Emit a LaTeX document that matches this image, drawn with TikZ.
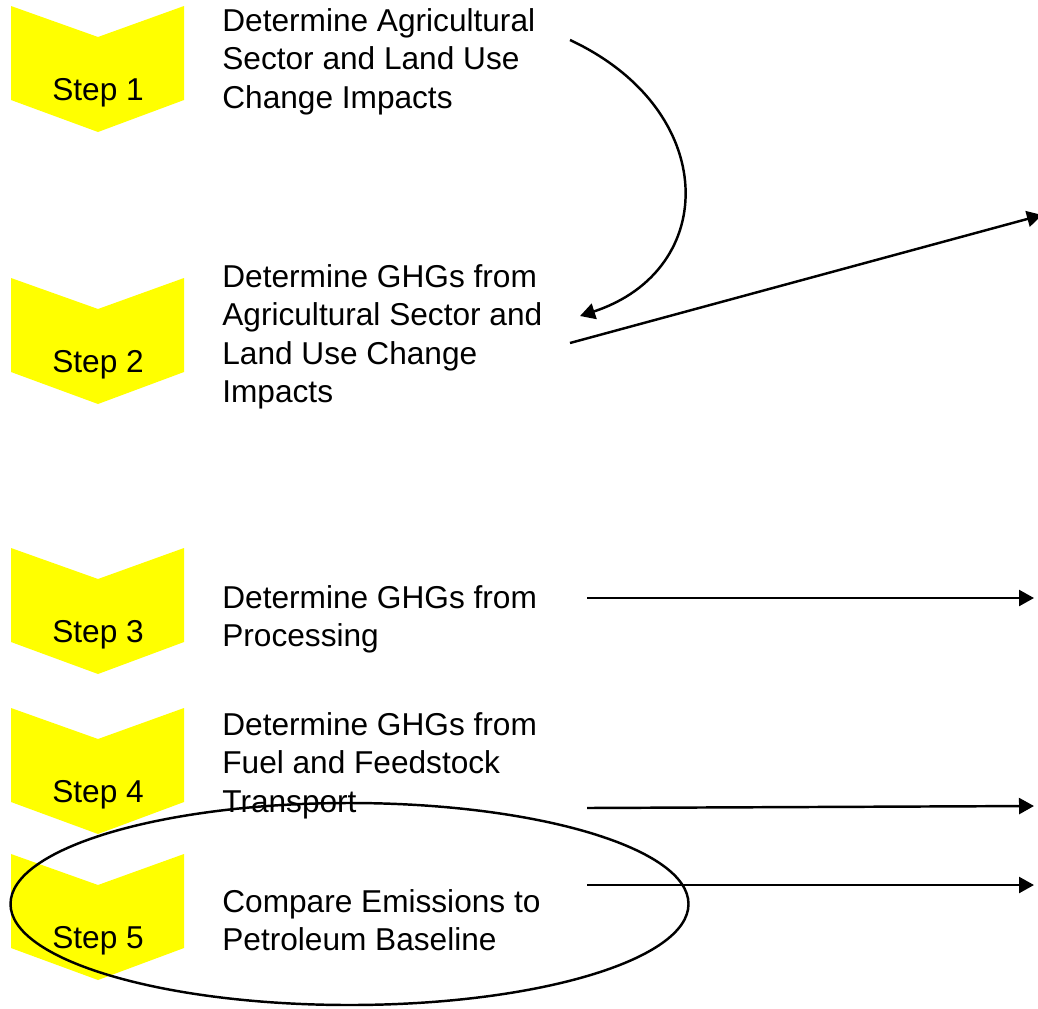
\documentclass[tikz,border=0pt]{standalone}
\usepackage{fontspec}
\setmainfont{Liberation Sans}
\usetikzlibrary{arrows.meta}
\definecolor{stepyellow}{RGB}{255,255,0}

\begin{document}
\begin{tikzpicture}[x=0.02cm,y=-0.02cm]
	\tikzstyle{every node}+=[inner sep=0pt, font=\fontsize{18}{21.9}\selectfont]
	\tikzstyle{task}=[anchor=north west, align=left]
	\tikzstyle{flow}=[line width=1.4pt, -{Triangle[length=0.3cm,width=0.32cm]}]
	\useasboundingbox (0,0) rectangle (1038,1008);
	% yellow step chevrons
	\foreach \n/\y in {1/6,2/278,3/548,4/708,5/854} {
		\fill [stepyellow] (11,\y) -- (98,\y+31) -- (184,\y) -- (184,\y+94) -- (98,\y+126) -- (11,\y+94) -- cycle;
		\node (step\n) at (98,\y+87) {Step \n};
	}
	% task texts
	\node [task] (agri) at (222,8) {Determine Agricultural\\Sector and Land Use\\Change Impacts};
	\node [task] (ghgland) at (222,264) {Determine GHGs from\\Agricultural Sector and\\Land Use Change\\Impacts};
	\node [task] (proc) at (222,585) {Determine GHGs from\\Processing};
	\node [task] (transp) at (222,712) {Determine GHGs from\\Fuel and Feedstock\\Transport};
	\node [task] (compare) at (222,889) {Compare Emissions to\\Petroleum Baseline};
	% ring round step 5
	\draw [line width=1.4pt] (349.5,904) ellipse [x radius=339, y radius=101];
	% arrows
	\coordinate (a1) at (570,40);
	\coordinate (a2) at (580,316);
	\coordinate (b1) at (570,343);
	\coordinate (b2) at (1042,215);
	\coordinate (c1) at (587,598);
	\coordinate (c2) at (1034,598);
	\coordinate (d1) at (587,808);
	\coordinate (d2) at (1034,806);
	\coordinate (e1) at (587,885);
	\coordinate (e2) at (1034,885);
	\draw [flow] (a1) .. controls (720,110) and (720,270) .. (a2);
	\draw [flow] (b1) -- (b2);
	\draw [flow] (c1) -- (c2);
	\draw [flow] (d1) -- (d2);
	\draw [flow] (e1) -- (e2);
\end{tikzpicture}
\end{document}
